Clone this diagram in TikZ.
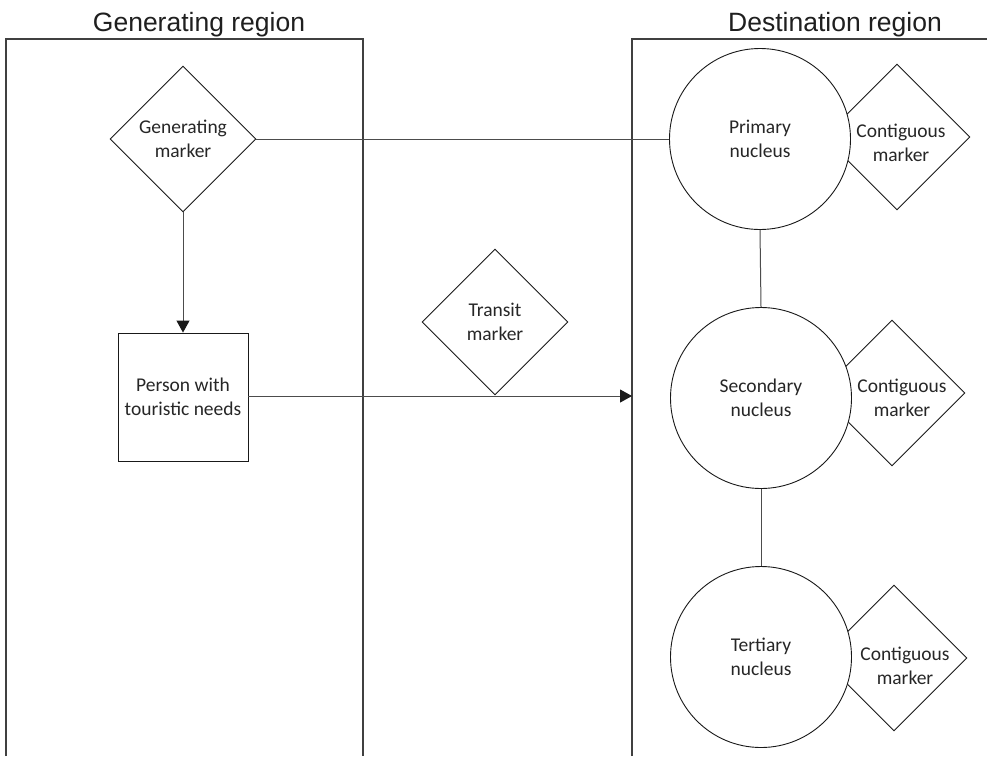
\documentclass[tikz,border=0pt]{standalone}
\usepackage{fontspec}
\setmainfont{Carlito}
\newfontfamily\titlefont{Liberation Sans}
\usetikzlibrary{shapes.geometric,arrows.meta}
\newcommand\nodefnt{\fontsize{19.5}{23.5}\selectfont}
\begin{document}
\begin{tikzpicture}[x=1pt,y=-1pt,
  region/.style={draw=black!75, line width=1.3pt},
  marker/.style={diamond, draw=black!90, line width=0.9pt, minimum width=146pt, minimum height=146pt, inner sep=0pt, aspect=1, align=center, font=\nodefnt, text=black!85, fill=white},
  markertext/.style={align=center, font=\nodefnt, text=black!85, inner sep=0pt},
  nucleus/.style={circle, draw=black!90, line width=0.9pt, fill=white, minimum size=181pt, inner sep=0pt, align=center, font=\nodefnt, text=black!85},
  personbox/.style={rectangle, draw=black!90, line width=0.9pt, minimum width=130pt, minimum height=128pt, inner sep=0pt, align=center, font=\nodefnt, text=black!85},
  link/.style={draw=black!70, line width=1pt},
  arrowlink/.style={link, -{Triangle[length=12pt,width=13pt,color=black!90,fill=black!90]}},
  regiontitle/.style={font=\titlefont\fontsize{26.5}{31}\selectfont, text=black!88, anchor=base}
]
\useasboundingbox (0,0) rectangle (987,756);
\fill[white] (0,0) rectangle (987,756);

% regions
\draw[region] (6,756) -- (6,39) -- (363,39) -- (363,756);
\draw[region] (632,756) -- (632,39) -- (987,39);
\node[regiontitle] (gtitle) at (199,31) {Generating region};
\node[regiontitle] (dtitle) at (835,31) {Destination region};

% generating side
\node[marker] (gen) at (183,139) {Generating\\marker};
\node[personbox] (person) at (183,397) {Person with\\touristic needs};

% transit
\node[marker] (transit) at (495,322) {Transit\\marker};

% destination side: contiguous markers (behind the nuclei)
\node[marker] (c1) at (897,137) {};
\node[marker] (c2) at (892,393) {};
\node[marker] (c3) at (894,658) {};
\node[markertext] (c1t) at ([shift={(4,6)}]c1.center) {Contiguous\\marker};
\node[markertext] (c2t) at ([shift={(10,5)}]c2.center) {Contiguous\\marker};
\node[markertext] (c3t) at ([shift={(11,8)}]c3.center) {Contiguous\\marker};

\node[nucleus] (prim) at (760,139) {Primary\\nucleus};
\node[nucleus] (sec) at (761,398) {Secondary\\nucleus};
\node[nucleus] (ter) at (761,657) {Tertiary\\nucleus};

\coordinate (destedge) at (632,396);

% connectors
\draw[arrowlink] (gen.south) -- (person.north);
\draw[arrowlink] (person.east |- destedge) -- (destedge);
\draw[link] (gen.east) -- (prim.west);
\draw[link] (prim.south) -- (sec.north);
\draw[link] (sec.south) -- (ter.north);
\end{tikzpicture}
\end{document}
